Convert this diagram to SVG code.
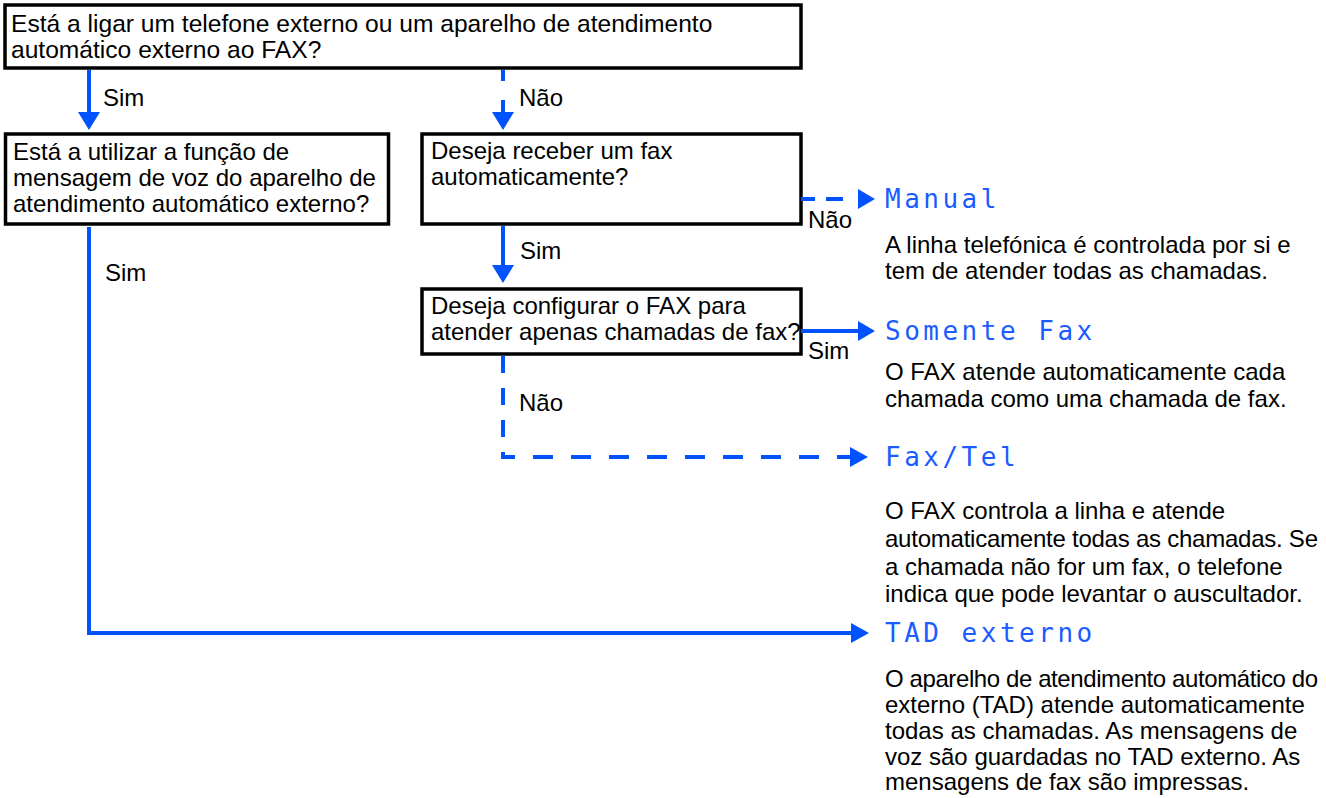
<svg xmlns="http://www.w3.org/2000/svg" width="1326" height="798" viewBox="0 0 1326 798">
<style>
.box{fill:#fff;stroke:#000;stroke-width:3.5}
.t{font-family:"Liberation Sans",Arial,Helvetica,sans-serif;font-size:24px;fill:#000}
.big{font-size:24.6px}
.lcd{font-family:"DejaVu Sans Mono","Liberation Mono",monospace;font-size:26px;letter-spacing:3.5px;fill:#1a5cff}
.ln{stroke:#0052ff;stroke-width:4;fill:none}
.dash{stroke:#0052ff;stroke-width:4;fill:none;stroke-dasharray:20 18}
.ah{fill:#0052ff}
</style>
<rect width="1326" height="798" fill="#fff"/>
<g id="q1">
<rect class="box" x="5" y="5" width="796" height="63"/>
<text class="t big" x="11" y="32">Está a ligar um telefone externo ou um aparelho de atendimento</text>
<text class="t big" x="11" y="58">automático externo ao FAX?</text>
</g>
<g id="q2">
<rect class="box" x="5.5" y="134" width="383" height="90"/>
<text class="t" x="13" y="160">Está a utilizar a função de</text>
<text class="t" x="13" y="186">mensagem de voz do aparelho de</text>
<text class="t" x="13" y="212">atendimento automático externo?</text>
</g>
<g id="q3">
<rect class="box" x="422" y="134" width="379" height="90"/>
<text class="t" x="431" y="159">Deseja receber um fax</text>
<text class="t" x="431" y="185">automaticamente?</text>
</g>
<g id="q4">
<rect class="box" x="422" y="289" width="379" height="65"/>
<text class="t" x="431" y="314">Deseja configurar o FAX para</text>
<text class="t" x="431" y="340">atender apenas chamadas de fax?</text>
</g>
<g id="r-manual">
<text class="lcd" x="885" y="208">Manual</text>
<text class="t" x="885" y="253">A linha telefónica é controlada por si e</text>
<text class="t" x="885" y="279">tem de atender todas as chamadas.</text>
</g>
<g id="r-fax">
<text class="lcd" x="885" y="340">Somente Fax</text>
<text class="t" x="885" y="380">O FAX atende automaticamente cada</text>
<text class="t" x="885" y="407">chamada como uma chamada de fax.</text>
</g>
<g id="r-faxtel">
<text class="lcd" x="885" y="466">Fax/Tel</text>
<text class="t" x="885" y="519">O FAX controla a linha e atende</text>
<text class="t" x="885" y="547" textLength="433" lengthAdjust="spacing">automaticamente todas as chamadas. Se</text>
<text class="t" x="885" y="575">a chamada não for um fax, o telefone</text>
<text class="t" x="885" y="602">indica que pode levantar o auscultador.</text>
</g>
<g id="r-tad">
<text class="lcd" x="885" y="642">TAD externo</text>
<text class="t" x="885" y="687" textLength="433" lengthAdjust="spacing">O aparelho de atendimento automático do</text>
<text class="t" x="885" y="713">externo (TAD) atende automaticamente</text>
<text class="t" x="885" y="739">todas as chamadas. As mensagens de</text>
<text class="t" x="885" y="765">voz são guardadas no TAD externo. As</text>
<text class="t" x="885" y="790">mensagens de fax são impressas.</text>
</g>
<g id="connectors">
<line class="ln" x1="89" y1="70" x2="89" y2="113"/>
<polygon class="ah" points="78,112 100,112 89,130"/>
<text class="t" x="103" y="106">Sim</text>
<line class="ln" x1="503" y1="70" x2="503" y2="81"/>
<line class="ln" x1="503" y1="100" x2="503" y2="113"/>
<polygon class="ah" points="492,112 514,112 503,130"/>
<text class="t" x="519" y="106">Não</text>
<line class="ln" x1="503" y1="226" x2="503" y2="266"/>
<polygon class="ah" points="492,265 514,265 503,283"/>
<text class="t" x="520" y="259">Sim</text>
<line class="ln" x1="801" y1="199" x2="815" y2="199"/>
<line class="ln" x1="826" y1="199" x2="843" y2="199"/>
<polygon class="ah" points="858,189 858,209 875,199"/>
<text class="t" x="808" y="228">Não</text>
<line class="ln" x1="801" y1="331" x2="860" y2="331"/>
<polygon class="ah" points="858,321 858,341 875,331"/>
<text class="t" x="808" y="359">Sim</text>
<path class="dash" style="stroke-dasharray:17 15" d="M503,356 V457"/>
<path class="dash" d="M501,457 H850" style="stroke-dasharray:14 18 20 18 20 18 20 18 20 18 20 18 20 18 20 18 20 18 20 18 12"/>
<polygon class="ah" points="850,447 850,467 868,457"/>
<text class="t" x="519" y="411">Não</text>
<path class="ln" d="M89,227 V633 H852"/>
<polygon class="ah" points="851,623 851,643 869,633"/>
<text class="t" x="105" y="281">Sim</text>
</g>
</svg>
